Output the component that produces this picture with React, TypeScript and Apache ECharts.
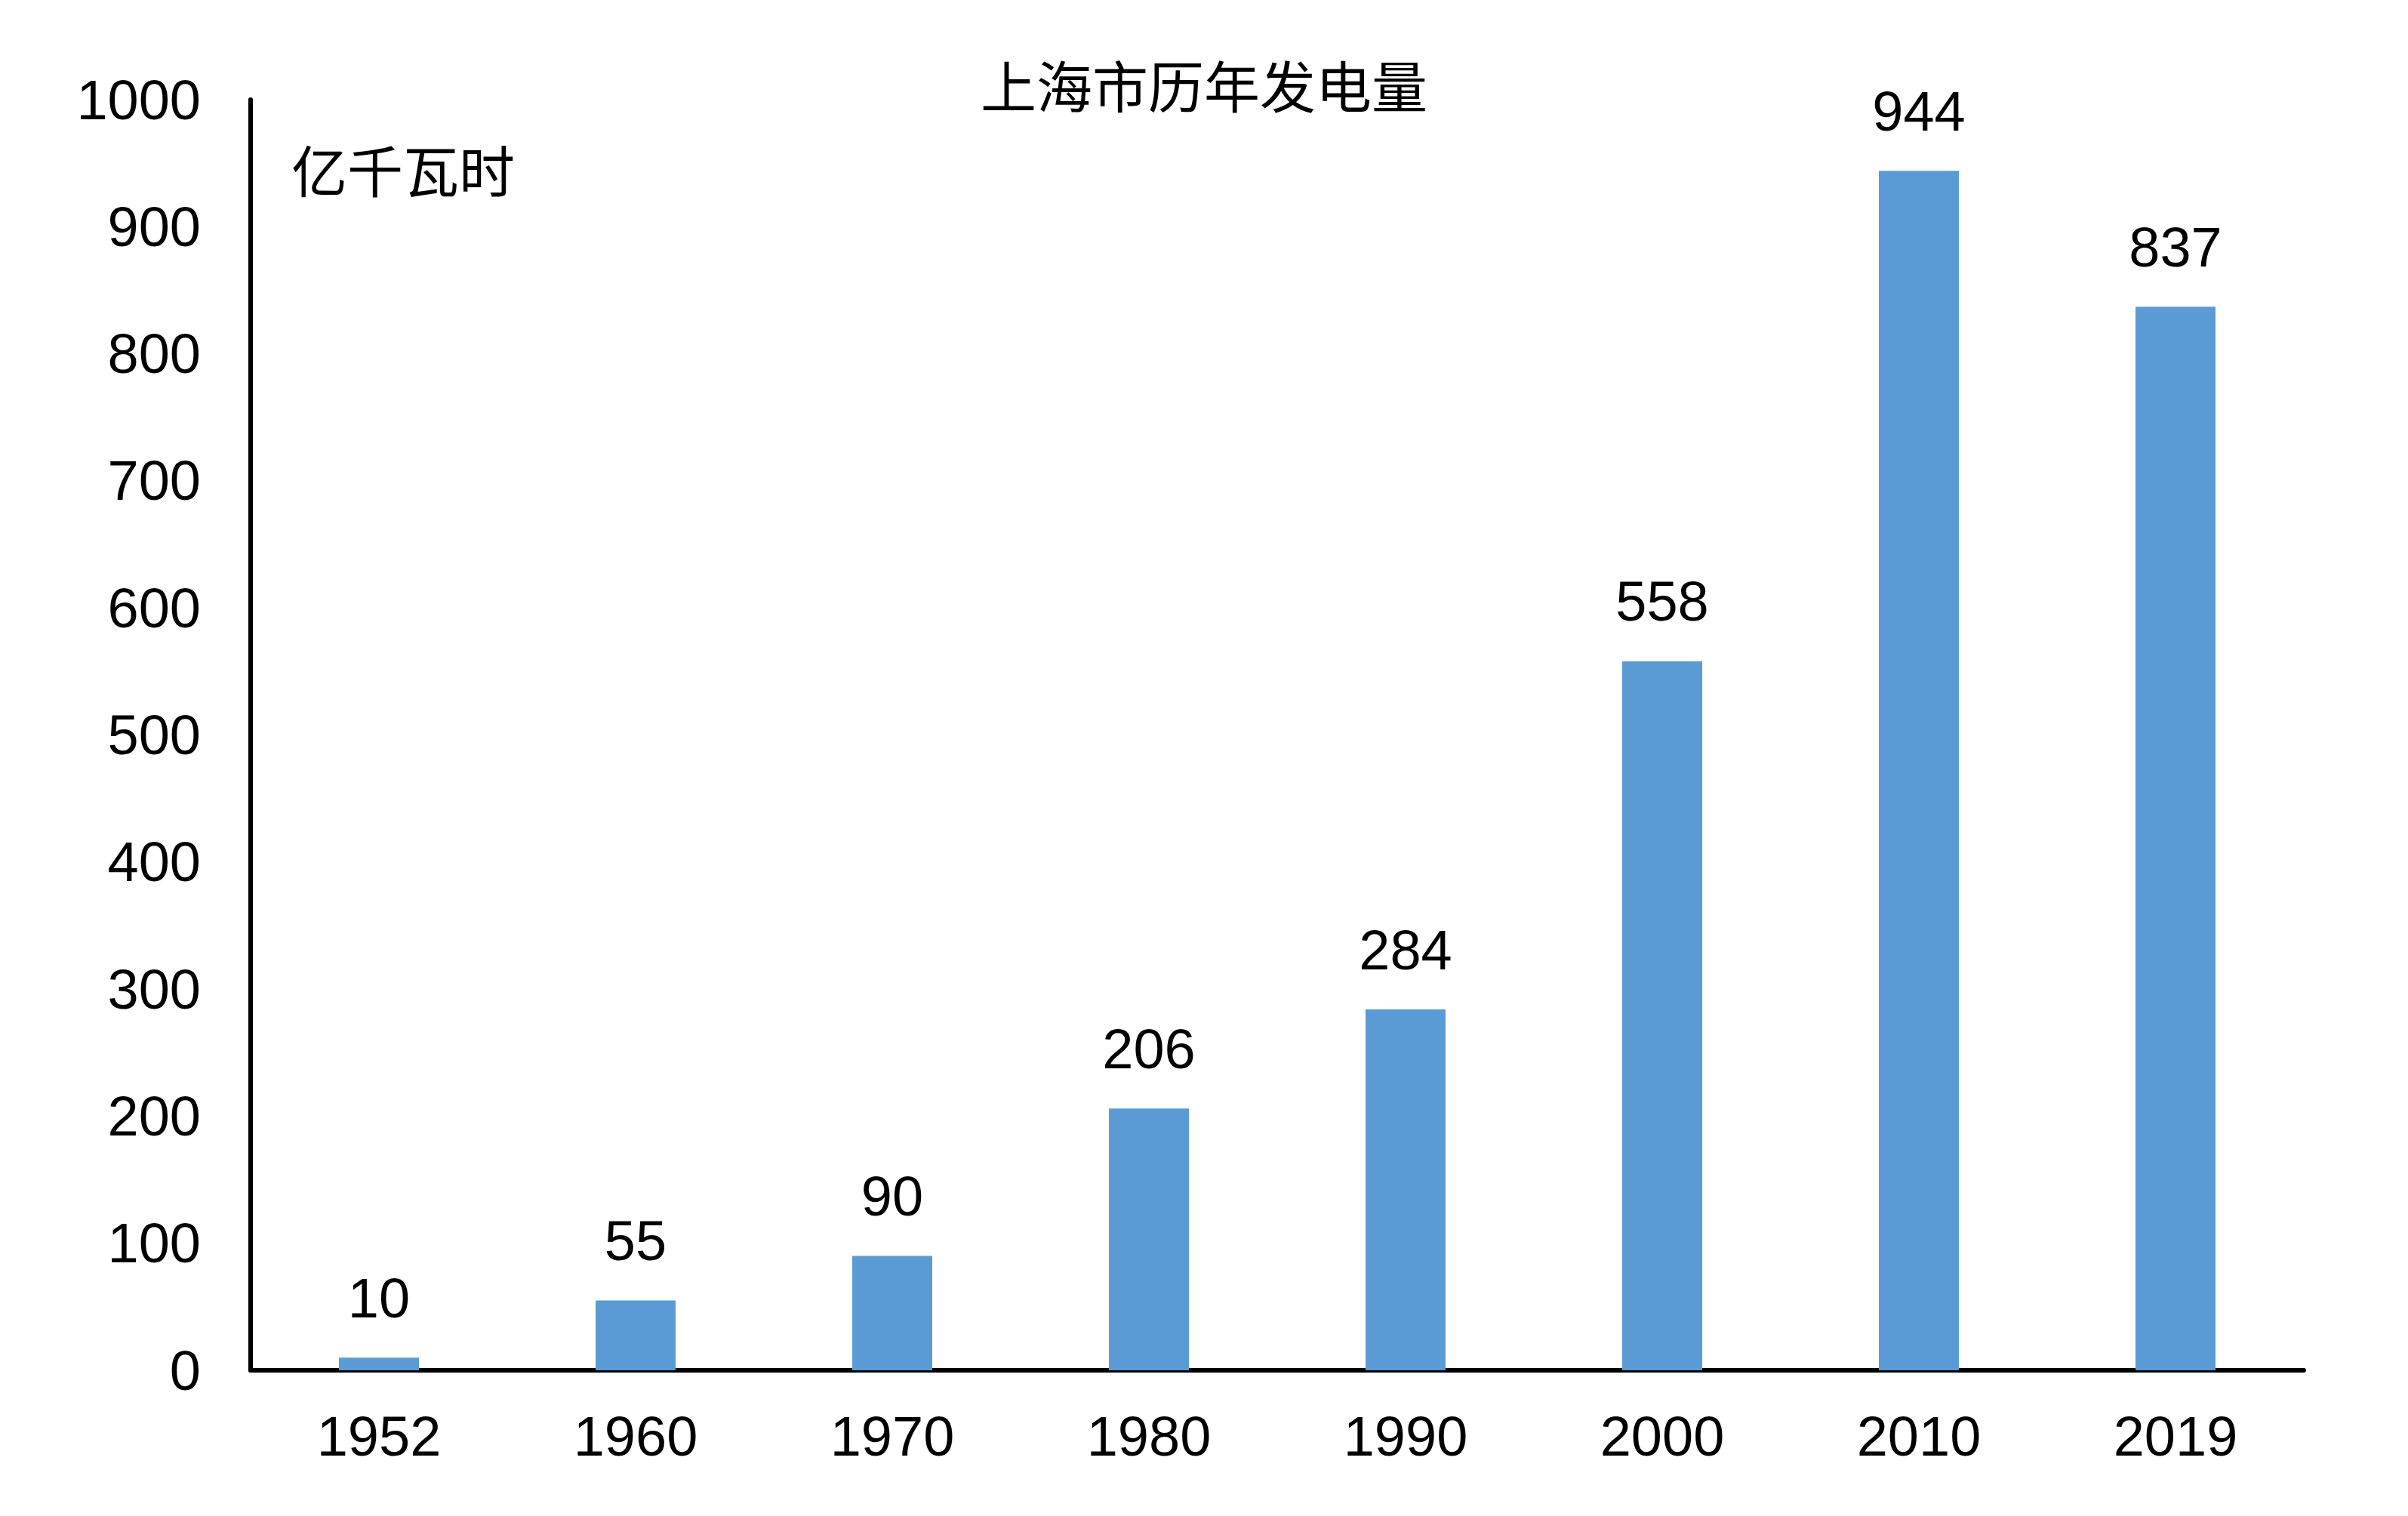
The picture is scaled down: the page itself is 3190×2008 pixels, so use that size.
import React, { useEffect, useRef } from "react";
import * as echarts from "echarts";

const categories = ["1952", "1960", "1970", "1980", "1990", "2000", "2010", "2019"];
const values = [10, 55, 90, 206, 284, 558, 944, 837];
const chartTitle = "上海市历年发电量";
const unitLabel = "亿千瓦时";

export default function App() {
  const ref = useRef<HTMLDivElement>(null);
  useEffect(() => {
    if (!ref.current) return;
    const chart = echarts.init(ref.current, null, { renderer: "svg" });
    const latin = "'Liberation Sans', Arial, sans-serif";
    const cjk = "'Noto Sans CJK SC', sans-serif";
    chart.setOption({
      animation: false,
      backgroundColor: "#ffffff",
      grid: { left: 332, right: 138, top: 132, bottom: 193, containLabel: false },
      graphic: [
        {
          type: "text",
          x: 1595,
          y: 110,
          style: {
            text: chartTitle,
            fontSize: 74,
            fontFamily: cjk,
            fill: "#000",
            align: "center",
            verticalAlign: "middle",
          },
        },
        {
          type: "text",
          x: 386,
          y: 222,
          style: {
            text: unitLabel,
            fontSize: 74,
            fontFamily: cjk,
            fill: "#000",
            align: "left",
            verticalAlign: "middle",
          },
        },
      ],
      xAxis: {
        type: "category",
        data: categories,
        axisLine: { show: true, lineStyle: { color: "#000", width: 6 } },
        axisTick: { show: false },
        axisLabel: { color: "#000", fontSize: 74, fontFamily: latin, margin: 50 },
        splitLine: { show: false },
      },
      yAxis: {
        type: "value",
        min: 0,
        max: 1000,
        interval: 100,
        axisLine: { show: true, lineStyle: { color: "#000", width: 6 } },
        axisTick: { show: false },
        axisLabel: {
          color: "#000",
          fontSize: 74,
          fontFamily: latin,
          margin: 66,
          formatter: (v: number) => String(v),
        },
        splitLine: { show: false },
      },
      series: [
        {
          type: "bar",
          data: values,
          barWidth: 106,
          itemStyle: { color: "#5B9BD5" },
          label: {
            show: true,
            position: "top",
            distance: 42,
            color: "#000",
            fontSize: 74,
            fontFamily: latin,
          },
        },
      ],
    });
    return () => chart.dispose();
  }, []);
  return (
    <div
      ref={ref}
      style={{ position: "absolute", left: 0, top: 0, width: 3190, height: 2008, background: "#fff" }}
    />
  );
}
